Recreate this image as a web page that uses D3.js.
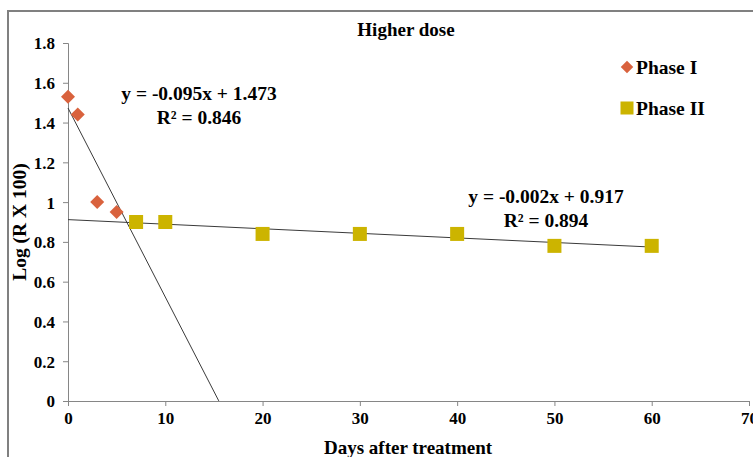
<!DOCTYPE html>
<html>
<head>
<meta charset="utf-8">
<script src="https://cdn.jsdelivr.net/npm/d3@7"></script>
<style>
  body { margin: 0; background: #fff; }
  svg { display: block; font-family: "Liberation Serif", "Times New Roman", serif; font-weight: bold; }
</style>
</head>
<body>
<div id="chart"></div>
<script>
// data
const phase1Days = [0, 1, 3, 5];
const phase1Values = [1.53, 1.44, 1.0, 0.95];
const phase2Days = [7, 10, 20, 30, 40, 50, 60];
const phase2Values = [0.90, 0.90, 0.84, 0.84, 0.84, 0.78, 0.78];

// trend lines: [slope, intercept], drawn over [x0, x1]
const trend1 = [-0.095, 1.473];
const trend1Range = [0, 15.5];
const trend2 = [-0.0023, 0.912];
const trend2Range = [0, 60];
const trend1Labels = ["y = -0.095x + 1.473", "R² = 0.846"];
const trend2Labels = ["y = -0.002x + 0.917", "R² = 0.894"];

const xTicks = [0, 10, 20, 30, 40, 50, 60, 70];
const yTicks = [0, 0.2, 0.4, 0.6, 0.8, 1, 1.2, 1.4, 1.6, 1.8];
const seriesNames = ["Phase I", "Phase II"];

const width = 753, height = 457;
const margin = { left: 68, top: 43, right: 4, bottom: 56 };

const svg = d3.select("#chart").append("svg")
  .attr("width", width).attr("height", height);

// outer chart frame (only the top/left edges fall inside the picture)
svg.append("path")
  .attr("d", `M8,${height} V11 H${width}`)
  .attr("fill", "none").attr("stroke", "#808080").attr("stroke-width", 2);

const x = d3.scaleLinear().domain([0, 70]).range([margin.left, width - margin.right]);
const y = d3.scaleLinear().domain([0, 1.8]).range([height - margin.bottom, margin.top]);

const axisColor = "#868686";

const xAxis = svg.append("g")
  .attr("transform", `translate(0,${y(0)})`)
  .call(d3.axisBottom(x).tickValues(xTicks).tickSize(5).tickPadding(6).tickFormat(d3.format("d")));
const yAxis = svg.append("g")
  .attr("transform", `translate(${x(0)},0)`)
  .call(d3.axisLeft(y).tickValues(yTicks).tickSize(5).tickPadding(8).tickFormat(d => d === 0 || d === 1 ? d3.format("d")(d) : d3.format(".1f")(d)));

[xAxis, yAxis].forEach(g => {
  g.attr("font-family", null).attr("font-size", null);
  g.selectAll("path, line").attr("stroke", axisColor);
  g.selectAll("text")
    .attr("fill", "#000")
    .style("font-family", "'Liberation Serif', serif")
    .style("font-weight", "bold")
    .style("font-size", "17px");
});
yAxis.selectAll("text").attr("dy", "0.35em");

// trend lines
const line = d3.line().x(d => x(d[0])).y(d => y(d[1]));
[[trend1, trend1Range], [trend2, trend2Range]].forEach(([t, r]) => {
  svg.append("path")
    .datum(r.map(d => [d, t[0] * d + t[1]]))
    .attr("d", line)
    .attr("fill", "none")
    .attr("stroke", "#3a3a3a")
    .attr("stroke-width", 1);
});

// markers
const orange = "#d9623d", yellow = "#ccb400";

svg.append("g").selectAll("path")
  .data(phase1Days.map((d, i) => [d, phase1Values[i]]))
  .join("path")
  .attr("transform", d => `translate(${x(d[0])},${y(d[1])}) rotate(45)`)
  .attr("d", d3.symbol().type(d3.symbolSquare2).size(125)())
  .attr("fill", orange);

const sq = 14;
svg.append("g").selectAll("rect")
  .data(phase2Days.map((d, i) => [d, phase2Values[i]]))
  .join("rect")
  .attr("x", d => x(d[0]) - sq / 2)
  .attr("y", d => y(d[1]) - sq / 2)
  .attr("width", sq).attr("height", sq)
  .attr("fill", yellow);

// equation labels
function eqLabel(lines, cx, cy) {
  const t = svg.append("text")
    .attr("text-anchor", "middle")
    .attr("font-size", 19.5)
    .attr("fill", "#000");
  lines.forEach((s, i) => {
    t.append("tspan").attr("x", cx).attr("y", cy + i * 24).text(s);
  });
}
eqLabel(trend1Labels, 199, 100);
eqLabel(trend2Labels, 546, 203);

// title
svg.append("text")
  .attr("x", 406).attr("y", 36)
  .attr("text-anchor", "middle")
  .attr("font-size", 19)
  .text("Higher dose");

// axis titles
svg.append("text")
  .attr("transform", `translate(26,${(y(0) + y(1.8)) / 2}) rotate(-90)`)
  .attr("text-anchor", "middle")
  .attr("font-size", 19.5)
  .text("Log (R X 100)");

svg.append("text")
  .attr("x", 408).attr("y", 454)
  .attr("text-anchor", "middle")
  .attr("font-size", 19)
  .text("Days after treatment");

// legend
const legend = svg.append("g").attr("transform", "translate(627,0)");
legend.append("path")
  .attr("transform", "translate(0,67) rotate(45)")
  .attr("d", d3.symbol().type(d3.symbolSquare2).size(100)())
  .attr("fill", orange);
legend.append("rect")
  .attr("x", -6.5).attr("y", 101.5).attr("width", 13).attr("height", 13)
  .attr("fill", yellow);
legend.selectAll("text.leg")
  .data(seriesNames)
  .join("text")
  .attr("class", "leg")
  .attr("x", 9)
  .attr("y", (d, i) => 74 + i * 41)
  .attr("font-size", 19.5)
  .text(d => d);
</script>
</body>
</html>
